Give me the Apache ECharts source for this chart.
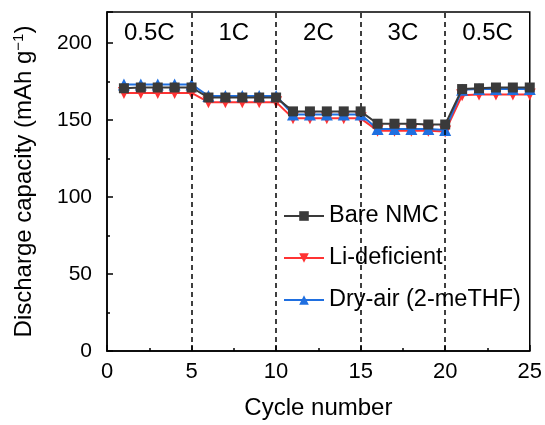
<!DOCTYPE html>
<html><head><meta charset="utf-8">
<script src="https://cdn.jsdelivr.net/npm/echarts@6/dist/echarts.min.js"></script>
<style>html,body{margin:0;padding:0;background:#fff}#c{width:545px;height:425px}</style>
</head><body><div id="c"></div>
<script>
const cycles = [1,2,3,4,5,6,7,8,9,10,11,12,13,14,15,16,17,18,19,20,21,22,23,24,25];
const bareNMC = [170.5,171,171,171,171, 164.5,164.5,164.5,164.5,164.5, 155.5,155.5,155.5,155.5,155.5, 147.5,147.5,147.5,147,147, 170,170.5,171,171,171];
const liDeficient = [167.5,167.5,167.5,167.5,167.5, 161.5,161.5,161.5,161.5,161.5, 151,151,151,151,151, 143,143,143,143,142.5, 166,166.5,166.5,166.5,166.5];
const dryAir = [173,173,173,173,173, 165.5,165.5,165.5,165.5,165.5, 153.5,153.5,153.5,153.5,153.5, 144,144,144,144,143.5, 169.5,170,170,170,170];
const rateLabels = ['0.5C','1C','2C','3C','0.5C'];
const rateBounds = [0,5,10,15,20,25];
const font = 'Liberation Sans, Arial, sans-serif';

const pair = a => cycles.map((c,i)=>[c,a[i]]);
const chart = echarts.init(document.getElementById('c'));
chart.setOption({
  animation:false,
  textStyle:{fontFamily:font},
  grid:{left:107,right:14,top:12,bottom:71,show:true,borderColor:'#000',borderWidth:1.5,backgroundColor:'transparent'},
  legend:{
    orient:'vertical', left:283, top:204, itemGap:19, itemWidth:40, itemHeight:12, itemGap:18, padding:0,
    textStyle:{fontSize:23.5,color:'#000',fontFamily:font},
    data:['Bare NMC','Li-deficient','Dry-air (2-meTHF)']
  },
  xAxis:{
    type:'value', min:0, max:25, interval:5,
    name:'Cycle number', nameLocation:'middle', nameGap:45,
    nameTextStyle:{fontSize:24,color:'#000',fontFamily:font},
    axisLine:{lineStyle:{color:'#000',width:1.5}},
    axisTick:{inside:true,length:6,lineStyle:{color:'#000',width:1.5}},
    minorTick:{show:true,splitNumber:2,length:3,lineStyle:{color:'#000',width:1.5}},
    axisLabel:{fontSize:22,color:'#000',margin:10,fontFamily:font},
    splitLine:{show:false}
  },
  yAxis:{
    type:'value', min:0, max:220, interval:50,
    name:'Discharge capacity (mAh g{sup|−1})', nameLocation:'middle', nameGap:69,
    nameTextStyle:{fontSize:24,color:'#000',fontFamily:font,
      rich:{sup:{fontSize:15,verticalAlign:'bottom',padding:[0,0,12,0],color:'#000',fontFamily:font}}},
    axisLine:{lineStyle:{color:'#000',width:1.5}},
    axisTick:{inside:true,length:6,lineStyle:{color:'#000',width:1.5}},
    minorTick:{show:true,splitNumber:2,length:3,lineStyle:{color:'#000',width:1.5}},
    axisLabel:{fontSize:21,color:'#000',margin:15,fontFamily:font,showMaxLabel:false},
    splitLine:{show:false}
  },
  series:[
    {name:'Bare NMC', type:'line', data:pair(bareNMC), z:5,
     symbol:'rect', symbolSize:10, color:'#3a3a3a',
     lineStyle:{width:2,color:'#3a3a3a'}, itemStyle:{color:'#3a3a3a'},
     markLine:{silent:true,symbol:'none',label:{show:false},
       lineStyle:{type:[5,4],color:'#000',width:1.5},
       data:[{xAxis:5},{xAxis:10},{xAxis:15},{xAxis:20}]},
     markArea:{silent:true,itemStyle:{color:'rgba(0,0,0,0)'},
       label:{show:true,position:'insideTop',distance:9,fontSize:24,color:'#000',fontFamily:font},
       data:rateLabels.map((t,i)=>[{name:t,xAxis:rateBounds[i],yAxis:220},{xAxis:rateBounds[i+1],yAxis:190}])}
    },
    {name:'Li-deficient', type:'line', data:pair(liDeficient), z:3,
     symbol:'triangle', symbolRotate:180, symbolSize:12, color:'#ff3333',
     lineStyle:{width:2,color:'#ff3333'}, itemStyle:{color:'#ff3333'}},
    {name:'Dry-air (2-meTHF)', type:'line', data:pair(dryAir), z:4,
     symbol:'triangle', symbolSize:12, color:'#1f6fe0',
     lineStyle:{width:2,color:'#1f6fe0'}, itemStyle:{color:'#1f6fe0'}}
  ]
});
</script></body></html>
